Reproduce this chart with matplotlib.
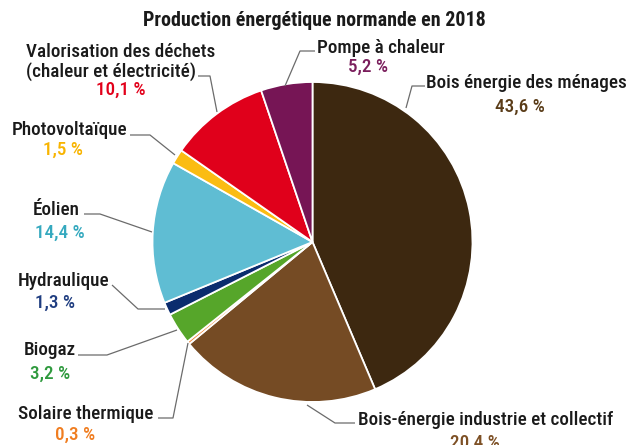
import matplotlib
matplotlib.use("Agg")
import matplotlib.pyplot as plt

plt.rcParams['font.family'] = ['Roboto Condensed', 'Liberation Sans Narrow', 'DejaVu Sans']
plt.rcParams['font.stretch'] = 'condensed'

# energy mix, clockwise from 12 o'clock
names = ["Bois énergie des ménages", "Bois-énergie industrie et collectif",
         "Solaire thermique", "Biogaz", "Hydraulique", "Éolien",
         "Photovoltaïque", "Valorisation des déchets\n(chaleur et électricité)",
         "Pompe à chaleur"]
shares = [43.6, 20.4, 0.3, 3.2, 1.3, 14.4, 1.5, 10.1, 5.2]
colors = ["#3d2810", "#754b24", "#f08a3c", "#56a62a", "#0b2c6e",
          "#5fbdd3", "#fbbc12", "#e0001b", "#761555"]
pct_colors = ["#5a3c18", "#7d5025", "#f07d20", "#2f9a3e", "#1f3d80",
              "#35a9bf", "#f8b400", "#e2001a", "#7a1e5c"]

# label placement in pixels: name anchor, name alignment, percent centre, leader path
layout = [
    ((526, 83), "center", (520, 107), [(425, 86), (412, 86), (406, 108)]),
    ((358, 420), "left", (475, 443), [(355, 423), (335, 423), (307, 405)]),
    ((18, 414), "left", (75, 435), [(158, 418), (173, 418), (188, 343)]),
    ((24, 350), "left", (50, 374), [(78, 355), (107, 355), (177, 330)]),
    ((18, 281), "left", (55, 303), [(112, 285), (138, 309), (165, 309)]),
    ((33, 210), "left", (60, 233), [(84, 214), (100, 214), (152, 232)]),
    ((12, 130), "left", (63, 150), [(130, 135), (150, 135), (175, 155)]),
    ((26, 62), "left", (121, 90), [(198, 76), (210, 76), (217, 112)]),
    ((317, 48), "left", (368, 67), [(315, 51), (300, 51), (285, 86)]),
]

W, H = 632, 445
fig = plt.figure(figsize=(W / 100, H / 100), dpi=100)
ax = fig.add_axes([0, 0, 1, 1])

# y axis runs top-down so everything is placed in pixel units;
# that flips the pie's direction, hence startangle=-90 and counterclock
ax.pie(shares, colors=colors, startangle=-90, counterclock=True,
       center=(312.5, 242), radius=160,
       wedgeprops=dict(edgecolor="white", linewidth=1.3))
ax.set_xlim(0, W)
ax.set_ylim(H, 0)
ax.axis("off")

ax.text(314, 20, "Production énergétique normande en 2018", ha="center",
        va="center", fontsize=14.4, fontweight="bold", color="#1a1a1a")

for name, share, pc, (npos, ha, ppos, path) in zip(names, shares, pct_colors, layout):
    ax.text(npos[0], npos[1], name, ha=ha, va="center", fontsize=13.8,
            fontweight="medium", color="#1a1a1a", linespacing=1.05)
    ax.text(ppos[0], ppos[1], f"{share:.1f} %".replace(".", ","), ha="center",
            va="center", fontsize=13.8, fontweight="medium", color=pc)
    xs, ys = zip(*path)
    ax.plot(xs, ys, color="#6b6b6b", linewidth=0.9, solid_capstyle="butt")

fig.savefig("out.png", dpi=100)
